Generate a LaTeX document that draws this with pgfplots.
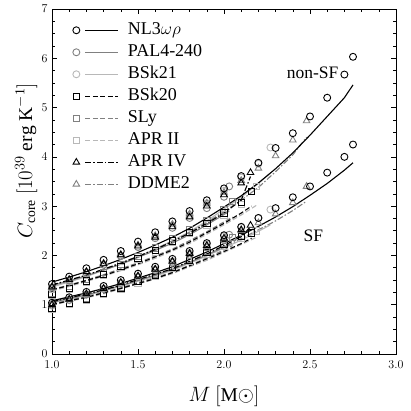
\documentclass[border=0pt]{standalone}
\usepackage{fontspec}
\setmainfont{Liberation Serif}
\usepackage{pgfplots}
\pgfplotsset{compat=1.18}
\usepackage{pgfplotstable}
\definecolor{cgray}{gray}{0.5}
\definecolor{clight}{gray}{0.72}

\pgfplotstableread{
M P Q
1.0 1.42 1.04
1.1 1.57 1.15
1.2 1.74 1.26
1.3 1.91 1.38
1.4 2.09 1.50
1.5 2.28 1.63
1.6 2.47 1.77
1.7 2.69 1.93
1.8 2.90 2.09
1.9 3.12 2.25
2.0 3.36 2.41
2.1 3.61 2.58
2.2 3.88 2.76
2.3 4.18 2.96
2.4 4.48 3.18
2.5 4.82 3.40
2.6 5.20 3.68
2.7 5.67 4.00
2.75 6.03 4.25
}\nlpts
\pgfplotstableread{
M L K
1.0 1.46 1.08
1.1 1.56 1.16
1.2 1.67 1.24
1.3 1.79 1.33
1.4 1.92 1.43
1.5 2.06 1.54
1.6 2.21 1.65
1.7 2.37 1.77
1.8 2.55 1.92
1.9 2.76 2.07
2.0 2.98 2.24
2.1 3.21 2.41
2.2 3.47 2.59
2.3 3.76 2.78
2.4 4.08 2.99
2.5 4.44 3.22
2.6 4.82 3.46
2.7 5.20 3.73
2.75 5.46 3.88
}\nlline
\pgfplotstableread{
M P Q
1.0 1.35 1.00
1.1 1.49 1.10
1.2 1.65 1.21
1.3 1.81 1.32
1.4 1.99 1.44
1.5 2.17 1.56
1.6 2.35 1.70
1.7 2.56 1.85
1.8 2.76 2.01
1.9 2.96 2.16
2.0 3.19 2.31
2.03 3.40 2.42
}\palpts
\pgfplotstableread{
M L K
1.0 1.39 1.05
1.1 1.48 1.13
1.2 1.59 1.20
1.3 1.70 1.29
1.4 1.82 1.39
1.5 1.96 1.49
1.6 2.10 1.60
1.7 2.25 1.72
1.8 2.42 1.86
1.9 2.62 2.01
2.0 2.83 2.17
2.03 2.90 2.22
}\palline
\pgfplotstableread{
M P Q
1.0 1.32 0.98
1.1 1.47 1.09
1.2 1.64 1.20
1.3 1.81 1.32
1.4 1.99 1.44
1.5 2.18 1.57
1.6 2.38 1.72
1.7 2.61 1.88
1.8 2.82 2.05
1.9 3.06 2.22
2.0 3.31 2.39
2.1 3.58 2.57
2.2 3.86 2.76
2.27 4.19 2.93
}\bsktwoonepts
\pgfplotstableread{
M L K
1.0 1.36 1.04
1.1 1.46 1.11
1.2 1.57 1.19
1.3 1.70 1.28
1.4 1.83 1.37
1.5 1.97 1.48
1.6 2.13 1.58
1.7 2.30 1.70
1.8 2.48 1.84
1.9 2.70 1.99
2.0 2.94 2.15
2.1 3.18 2.31
2.2 3.46 2.49
2.27 3.67 2.62
}\bsktwooneline
\pgfplotstableread{
M P Q
1.0 1.21 0.92
1.1 1.33 1.02
1.2 1.48 1.12
1.3 1.62 1.23
1.4 1.78 1.34
1.5 1.94 1.47
1.6 2.10 1.60
1.7 2.29 1.75
1.8 2.47 1.91
1.9 2.65 2.06
2.0 2.86 2.22
2.1 3.07 2.38
2.16 3.30 2.46
}\bsktwozeropts
\pgfplotstableread{
M L K
1.0 1.30 1.00
1.1 1.39 1.08
1.2 1.49 1.15
1.3 1.59 1.24
1.4 1.71 1.33
1.5 1.83 1.43
1.6 1.97 1.53
1.7 2.11 1.65
1.8 2.27 1.79
1.9 2.46 1.93
2.0 2.65 2.08
2.1 2.86 2.24
2.16 3.00 2.35
}\bsktwozeroline
\pgfplotstableread{
M P Q
1.0 1.24 0.93
1.1 1.37 1.03
1.2 1.51 1.13
1.3 1.66 1.24
1.4 1.82 1.36
1.5 1.98 1.48
1.6 2.15 1.62
1.7 2.34 1.77
1.8 2.52 1.93
1.9 2.71 2.08
2.0 2.92 2.24
2.05 3.10 2.36
}\slypts
\pgfplotstableread{
M L K
1.0 1.31 1.02
1.1 1.40 1.09
1.2 1.50 1.17
1.3 1.61 1.25
1.4 1.73 1.34
1.5 1.85 1.45
1.6 1.99 1.55
1.7 2.13 1.66
1.8 2.30 1.80
1.9 2.48 1.95
2.0 2.68 2.11
2.05 2.78 2.20
}\slyline
\pgfplotstableread{
M P Q
1.0 1.19 0.90
1.1 1.32 1.00
1.2 1.46 1.10
1.3 1.60 1.21
1.4 1.76 1.32
1.5 1.92 1.44
1.6 2.07 1.58
1.7 2.26 1.73
1.8 2.44 1.88
1.9 2.62 2.03
2.0 2.82 2.19
2.1 3.03 2.35
2.19 3.40 2.50
}\aprtwopts
\pgfplotstableread{
M L K
1.0 1.28 0.99
1.1 1.37 1.07
1.2 1.47 1.14
1.3 1.58 1.22
1.4 1.69 1.32
1.5 1.81 1.42
1.6 1.94 1.52
1.7 2.09 1.63
1.8 2.24 1.77
1.9 2.43 1.90
2.0 2.62 2.06
2.1 2.82 2.22
2.19 3.02 2.37
}\aprtwoline
\pgfplotstableread{
M P Q
1.0 1.36 1.00
1.1 1.51 1.11
1.2 1.67 1.22
1.3 1.83 1.33
1.4 2.01 1.45
1.5 2.19 1.58
1.6 2.37 1.72
1.7 2.58 1.88
1.8 2.78 2.04
1.9 3.00 2.20
2.0 3.23 2.35
2.1 3.47 2.52
2.154 3.68 2.61
}\aprfourpts
\pgfplotstableread{
M L K
1.0 1.40 1.06
1.1 1.50 1.14
1.2 1.60 1.22
1.3 1.72 1.30
1.4 1.84 1.40
1.5 1.98 1.51
1.6 2.12 1.62
1.7 2.28 1.73
1.8 2.45 1.88
1.9 2.65 2.03
2.0 2.86 2.20
2.1 3.12 2.38
2.154 3.60 2.58
}\aprfourline
\pgfplotstableread{
M P Q
1.0 1.36 1.00
1.1 1.50 1.11
1.2 1.67 1.21
1.3 1.84 1.33
1.4 2.02 1.45
1.5 2.21 1.58
1.6 2.40 1.72
1.7 2.63 1.88
1.8 2.84 2.04
1.9 3.06 2.20
2.0 3.28 2.34
2.1 3.52 2.50
2.2 3.77 2.66
2.3 4.02 2.84
2.4 4.34 3.07
2.48 4.73 3.40
}\ddmepts
\pgfplotstableread{
M L K
1.0 1.40 1.05
1.1 1.50 1.13
1.2 1.60 1.20
1.3 1.72 1.29
1.4 1.85 1.39
1.5 1.98 1.49
1.6 2.13 1.60
1.7 2.29 1.72
1.8 2.47 1.86
1.9 2.67 2.01
2.0 2.89 2.17
2.1 3.12 2.34
2.2 3.38 2.52
2.3 3.70 2.70
2.4 4.04 2.91
2.48 4.40 3.10
}\ddmeline

\tikzset{
  dsh/.style={dash pattern=on 5pt off 2.5pt},
  dshdot/.style={dash pattern=on 6pt off 2pt on 1.5pt off 2pt},
}
\pgfplotsset{
  ptsO/.style={only marks, mark=o, mark size=3.5pt, mark options={solid, line width=0.9pt}},
  ptsS/.style={only marks, mark=square, mark size=3.2pt, mark options={solid, line width=0.9pt}},
  ptsT/.style={only marks, mark=triangle, mark size=3.8pt, mark options={solid, line width=0.9pt}},
  fit/.style={no marks, line width=1.1pt},
}

\begin{document}
\begin{tikzpicture}
\begin{axis}[
  scale only axis, width=344pt, height=345pt,
  xmin=1, xmax=3, ymin=0, ymax=7,
  xtick={1,1.5,2,2.5,3}, minor x tick num=4,
  ytick={0,1,2,3,4,5,6,7}, minor y tick num=3,
  tick align=inside,
  major tick length=5pt, minor tick length=3pt,
  every tick/.style={black, line width=0.6pt},
  axis line style={line width=0.8pt},
  xticklabel style={yshift=-3pt, /pgf/number format/.cd, fixed, fixed zerofill, precision=1},
  yticklabel style={xshift=-1pt},
  tick label style={font=\fontsize{11.5}{11.5}\selectfont},
  xlabel={$M\ [\mathrm{M}\odot]$},
  ylabel={$C_{\mathrm{core}}\ [10^{39}\ \mathrm{erg\ K^{-1}}]$},
  label style={font=\fontsize{19.5}{19.5}\selectfont},
  xlabel style={at={(axis description cs:0.5,0)}, anchor=north, yshift=-28pt},
  ylabel style={at={(axis description cs:-0.075,0.56)}, anchor=center},
  legend image code/.code={
    \draw[#1] (9pt,0pt) -- (42pt,0pt);
    \draw[#1, solid] plot coordinates {(0pt,0pt)};
  },
  legend cell align=left,
  legend style={at={(0.06,0.965)}, anchor=north west, draw=none, fill=none,
    inner sep=0pt, row sep=4pt, font=\fontsize{18}{18}\selectfont,
    /tikz/every odd column/.append style={column sep=8pt},
    nodes={inner sep=1pt, text height=12pt, text depth=4pt}},
]
\addlegendimage{black, line width=1.1pt, mark=o, mark size=3.5pt, mark options={solid, line width=0.9pt}}
\addlegendentry{NL3$\omega\rho$}
\addlegendimage{cgray, line width=1.1pt, mark=o, mark size=3.5pt, mark options={solid, line width=0.9pt}}
\addlegendentry{PAL4-240}
\addlegendimage{clight, line width=1.1pt, mark=o, mark size=3.5pt, mark options={solid, line width=0.9pt}}
\addlegendentry{BSk21}
\addlegendimage{black, dsh, line width=1.1pt, mark=square, mark size=3.2pt, mark options={solid, line width=0.9pt}}
\addlegendentry{BSk20}
\addlegendimage{cgray, dsh, line width=1.1pt, mark=square, mark size=3.2pt, mark options={solid, line width=0.9pt}}
\addlegendentry{SLy}
\addlegendimage{clight, dsh, line width=1.1pt, mark=square, mark size=3.2pt, mark options={solid, line width=0.9pt}}
\addlegendentry{APR II}
\addlegendimage{black, dshdot, line width=1.1pt, mark=triangle, mark size=3.8pt, mark options={solid, line width=0.9pt}}
\addlegendentry{APR IV}
\addlegendimage{cgray, dshdot, line width=1.1pt, mark=triangle, mark size=3.8pt, mark options={solid, line width=0.9pt}}
\addlegendentry{DDME2}

% fits
\addplot[fit, clight, dsh, forget plot] table[x=M, y=L] {\aprtwoline};
\addplot[fit, clight, dsh, forget plot] table[x=M, y=K] {\aprtwoline};
\addplot[fit, clight, forget plot] table[x=M, y=L] {\bsktwooneline};
\addplot[fit, clight, forget plot] table[x=M, y=K] {\bsktwooneline};
\addplot[fit, cgray, dsh, forget plot] table[x=M, y=L] {\slyline};
\addplot[fit, cgray, dsh, forget plot] table[x=M, y=K] {\slyline};
\addplot[fit, cgray, forget plot] table[x=M, y=L] {\palline};
\addplot[fit, cgray, forget plot] table[x=M, y=K] {\palline};
\addplot[fit, cgray, dshdot, forget plot] table[x=M, y=L] {\ddmeline};
\addplot[fit, cgray, dshdot, forget plot] table[x=M, y=K] {\ddmeline};
\addplot[fit, black, dsh, forget plot] table[x=M, y=L] {\bsktwozeroline};
\addplot[fit, black, dsh, forget plot] table[x=M, y=K] {\bsktwozeroline};
\addplot[fit, black, dshdot, forget plot] table[x=M, y=L] {\aprfourline};
\addplot[fit, black, dshdot, forget plot] table[x=M, y=K] {\aprfourline};
\addplot[fit, black, forget plot] table[x=M, y=L] {\nlline};
\addplot[fit, black, forget plot] table[x=M, y=K] {\nlline};

% points
\addplot[ptsS, clight, forget plot] table[x=M, y=P] {\aprtwopts};
\addplot[ptsS, clight, forget plot] table[x=M, y=Q] {\aprtwopts};
\addplot[ptsS, cgray, forget plot] table[x=M, y=P] {\slypts};
\addplot[ptsS, cgray, forget plot] table[x=M, y=Q] {\slypts};
\addplot[ptsS, black, forget plot] table[x=M, y=P] {\bsktwozeropts};
\addplot[ptsS, black, forget plot] table[x=M, y=Q] {\bsktwozeropts};
\addplot[ptsO, clight, forget plot] table[x=M, y=P] {\bsktwoonepts};
\addplot[ptsO, clight, forget plot] table[x=M, y=Q] {\bsktwoonepts};
\addplot[ptsO, cgray, forget plot] table[x=M, y=P] {\palpts};
\addplot[ptsO, cgray, forget plot] table[x=M, y=Q] {\palpts};
\addplot[ptsT, cgray, forget plot] table[x=M, y=P] {\ddmepts};
\addplot[ptsT, cgray, forget plot] table[x=M, y=Q] {\ddmepts};
\addplot[ptsT, black, forget plot] table[x=M, y=P] {\aprfourpts};
\addplot[ptsT, black, forget plot] table[x=M, y=Q] {\aprfourpts};
\addplot[ptsO, black, forget plot] table[x=M, y=P] {\nlpts};
\addplot[ptsO, black, forget plot] table[x=M, y=Q] {\nlpts};

\node[anchor=base east, font=\fontsize{17.5}{17.5}\selectfont] at (axis cs:2.686,5.58) {non-SF};
\node[anchor=base west, font=\fontsize{17.5}{17.5}\selectfont] at (axis cs:2.442,2.28) {SF};
\end{axis}
\path (current axis.south west) ++(-52pt,-57pt) rectangle ++(411pt,411pt);
\end{tikzpicture}
\end{document}
